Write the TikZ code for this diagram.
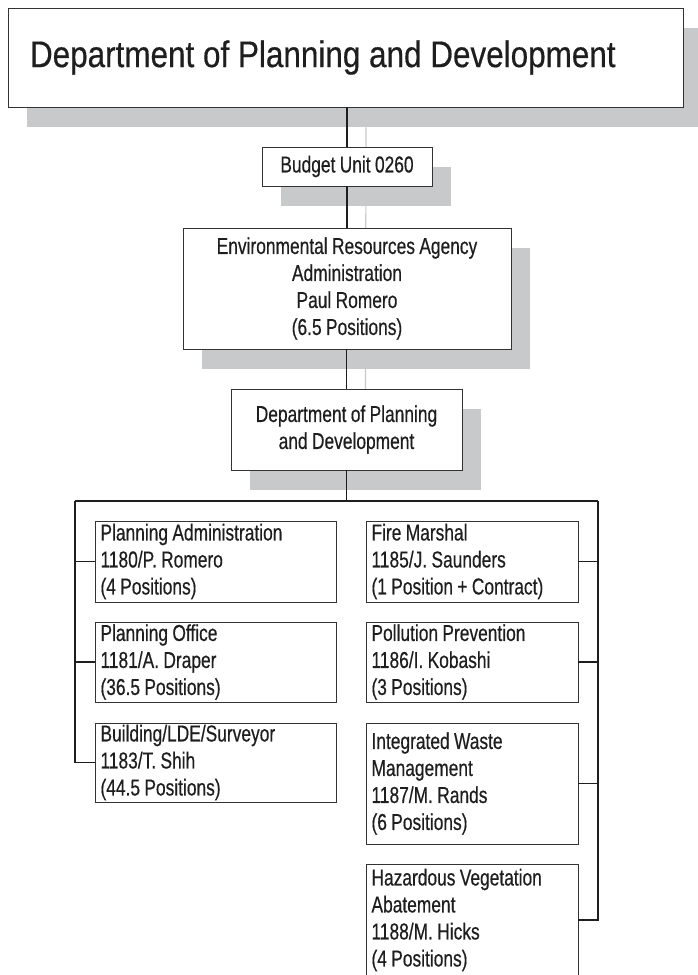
\documentclass[tikz,border=0pt]{standalone}
\usepackage{fontspec}
\setmainfont{Liberation Sans}[FakeStretch=0.755, WordSpace=0.9, FakeBold=0.45]
\newfontfamily\headfont{Liberation Sans}[FakeStretch=0.85, WordSpace=1.0, FakeBold=0.45]
\usetikzlibrary{backgrounds,calc}
\definecolor{inkcol}{HTML}{1E1E1E}
\definecolor{edgecol}{HTML}{333333}
\definecolor{shadecol}{HTML}{C8C9CB}
\tikzset{
  box/.style={draw=edgecol, line width=0.9pt, fill=white, inner sep=0pt,
    text=inkcol, font=\fontsize{23}{27}\selectfont},
  cbox/.style={box, align=center, minimum width=#1},
  lbox/.style={box, align=flush left, inner xsep=5.5pt, text width=#1},
  link/.style={draw=inkcol, line width=1.2pt},
  shade/.style={fill=shadecol},
  shadeline/.style={draw=shadecol, line width=1.2pt},
}
\newcommand{\dropshade}[1]{%
  \fill[shade] ($(#1.south west)+(19,20)$) rectangle ($(#1.north east)+(19,20)$);}
\begin{document}
\begin{tikzpicture}[x=1pt,y=-1pt]
\useasboundingbox (0,0) rectangle (697,975);
\clip (0,0) rectangle (697,975);

% header and upper chain
\node[box, align=flush left, inner xsep=22pt, text width=631pt, minimum height=99pt,
  font=\headfont\fontsize{37}{40}\selectfont] (title) at (345.5,57.5)
  {Department of Planning and Development};
\node[cbox=170pt, minimum height=39pt] (budget) at (347,166.5) {Budget Unit 0260};
\node[cbox=328pt, minimum height=121pt] (era) at (347,288.5)
  {Environmental Resources Agency\\Administration\\Paul Romero\\(6.5 Positions)};
\node[cbox=231pt, minimum height=81pt] (dept) at (346.5,429.5)
  {Department of Planning\\and Development};

% left column of units
\node[lbox=230pt, minimum height=81pt] (l1) at (215.5,561.5)
  {Planning Administration\\1180/P. Romero\\(4 Positions)};
\node[lbox=230pt, minimum height=80pt] (l2) at (215.5,662)
  {Planning Office\\1181/A. Draper\\(36.5 Positions)};
\node[lbox=230pt, minimum height=79pt] (l3) at (215.5,762.5)
  {Building/LDE/Surveyor\\1183/T. Shih\\(44.5 Positions)};

% right column of units
\node[lbox=201pt, minimum height=81pt] (r1) at (472,561.5)
  {Fire Marshal\\1185/J. Saunders\\(1 Position + Contract)};
\node[lbox=201pt, minimum height=80pt] (r2) at (472,662)
  {Pollution Prevention\\1186/I. Kobashi\\(3 Positions)};
\node[lbox=201pt, minimum height=121pt] (r3) at (472,783.5)
  {Integrated Waste\\Management\\1187/M. Rands\\(6 Positions)};
\node[lbox=201pt, minimum height=112pt] (r4) at (472,920)
  {Hazardous Vegetation\\Abatement\\1188/M. Hicks\\(4 Positions)};

% drop shadows behind the upper chain
\begin{scope}[on background layer]
  \draw[shadeline] ($(budget.north |- title.south)+(19,20)$) -- ($(dept.north)+(19,20)$);
  \dropshade{title}
  \dropshade{budget}
  \dropshade{era}
  \dropshade{dept}
\end{scope}

% connectors
\coordinate (lt) at (75,501);
\coordinate (rt) at (598,501);
\draw[link] (budget.north |- title.south) -- (budget.north);
\draw[link] (budget.south) -- (budget.south |- era.north);
\draw[link] (era.south -| dept.north) -- (dept.north);
\draw[link] (dept.south) -- (dept.south |- lt);
\draw[link] (lt) -- (rt);
\draw[link] (lt) |- (l3.west);
\draw[link] (lt |- l1.west) -- (l1.west);
\draw[link] (lt |- l2.west) -- (l2.west);
\draw[link] (rt) |- (r4.east);
\draw[link] (rt |- r1.east) -- (r1.east);
\draw[link] (rt |- r2.east) -- (r2.east);
\draw[link] (rt |- r3.east) -- (r3.east);
\end{tikzpicture}
\end{document}
